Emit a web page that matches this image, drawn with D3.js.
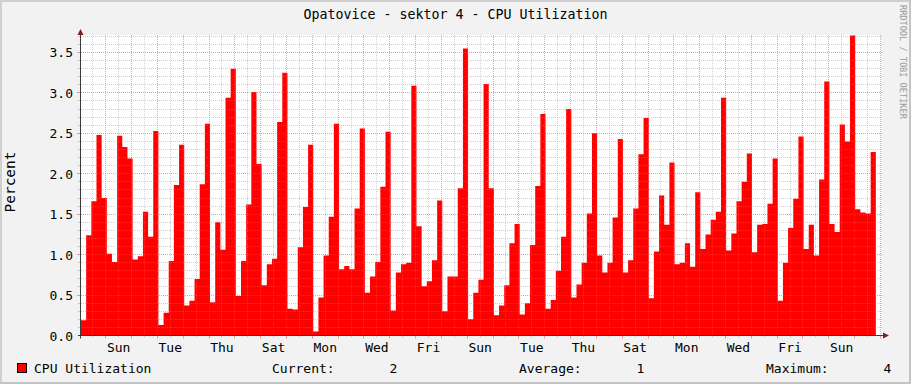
<!DOCTYPE html>
<html><head><meta charset="utf-8">
<script src="https://cdn.jsdelivr.net/npm/d3@7"></script>
<style>
html,body{margin:0;padding:0;background:#f2f2f2;}
svg{display:block;}
text{font-family:"DejaVu Sans Mono",monospace;white-space:pre;}
</style></head><body>
<svg id="chart" width="911" height="384"></svg>
<script>
// ---------- data ----------
const chartTitle = "Opatovice - sektor 4 - CPU Utilization";
const seriesName = "CPU Utilization";
const yAxisTitle = "Percent";
const watermark = "RRDTOOL / TOBI OETIKER";
const legendLabels = ["Current:", "Average:", "Maximum:"];
const yTickValues = [0, 0.5, 1.0, 1.5, 2.0, 2.5, 3.0, 3.5];
const xTickLabels = ["Sun","Tue","Thu","Sat","Mon","Wed","Fri","Sun","Tue","Thu","Sat","Mon","Wed","Fri","Sun"];
const cpuValues = [
 0.19,1.24,1.66,2.48,1.70,1.01,0.91,2.47,2.33,2.19,
 0.94,0.98,1.53,1.22,2.53,0.13,0.28,0.92,1.86,2.36,
 0.37,0.43,0.70,1.87,2.62,0.41,1.40,1.06,2.94,3.30,
 0.49,0.92,1.62,3.01,2.12,0.62,0.88,0.95,2.64,3.25,
 0.33,0.32,1.09,1.59,2.36,0.05,0.47,0.99,1.47,2.62,
 0.82,0.86,0.82,1.57,2.56,0.53,0.73,0.91,1.84,2.52,
 0.31,0.78,0.88,0.90,3.09,1.35,0.61,0.67,0.93,1.67,
 0.30,0.73,0.73,1.82,3.55,0.20,0.53,0.69,3.11,1.82,
 0.25,0.37,0.62,1.14,1.38,0.26,0.40,1.12,1.85,2.74,
 0.33,0.44,0.80,1.22,2.80,0.47,0.63,0.90,1.51,2.50,
 0.99,0.78,0.90,1.46,2.43,0.78,0.93,1.57,2.24,2.69,
 0.46,1.04,1.73,1.37,2.14,0.88,0.90,1.14,0.85,1.77,
 1.07,1.25,1.43,1.53,2.94,1.05,1.26,1.66,1.90,2.25,
 1.03,1.37,1.38,1.63,2.19,0.43,0.90,1.33,1.69,2.46,
 1.07,1.37,0.99,1.93,3.14,1.38,1.28,2.61,2.40,3.71,
 1.56,1.52,1.51,2.27
];
const startTime = new Date(Date.UTC(2022, 11, 31, 1, 30));
const endTime = new Date(Date.UTC(2023, 0, 31, 1, 0));
const slotCount = 155;            // time slots across the graph (last slot has no data yet)
const yMax = 3.71;

// ---------- layout ----------
const W = 911, H = 384;
const plot = {left: 81, right: 881, top: 35, bottom: 335.5};
const svg = d3.select("#chart");

const x = d3.scaleUtc().domain([startTime, endTime]).range([plot.left, plot.right]);
const y = d3.scaleLinear().domain([0, yMax]).range([plot.bottom, plot.top + 0.5]);

const stepMs = (endTime - startTime) / slotCount;
const points = cpuValues.map((v, i) => ({t: new Date(+startTime + i * stepMs), v}));
points.push({t: new Date(+startTime + cpuValues.length * stepMs), v: cpuValues[cpuValues.length - 1]});

// background + frame
svg.append("rect").attr("width", W).attr("height", H).attr("fill", "#f2f2f2");
svg.append("rect").attr("x", 0).attr("y", 0).attr("width", W).attr("height", 2).attr("fill", "#cfcfcf");
svg.append("rect").attr("x", 0).attr("y", 0).attr("width", 2).attr("height", H).attr("fill", "#cfcfcf");
svg.append("rect").attr("x", W - 2).attr("y", 0).attr("width", 2).attr("height", H).attr("fill", "#c4c4c4");
svg.append("rect").attr("x", 0).attr("y", H - 2).attr("width", W).attr("height", 2).attr("fill", "#c4c4c4");

// canvas
svg.append("rect").attr("x", plot.left).attr("y", plot.top)
  .attr("width", plot.right - plot.left).attr("height", plot.bottom - plot.top).attr("fill", "#ffffff");

// area
const area = d3.area().curve(d3.curveStepAfter)
  .x(d => x(d.t)).y0(y(0)).y1(d => y(d.v));
svg.append("path").datum(points).attr("d", area).attr("fill", "#ff0000");

// grid
const grid = svg.append("g");
const minorCol = "rgba(143,143,143,0.42)", majorCol = "rgba(222,79,79,0.55)";
const dayTicks = d3.utcDay.range(startTime, endTime);
const halfDayTicks = d3.utcHour.every(12).range(startTime, endTime).filter(d => d.getUTCHours() === 12);
const yMinor = d3.range(1, 38).filter(v => v % 5 !== 0 && v / 10 <= yMax).map(v => v / 10);
function vline(t, col, ext) {
  const px = Math.round(x(t)) + 0.5;
  grid.append("line").attr("x1", px).attr("x2", px).attr("y1", plot.top).attr("y2", plot.bottom)
    .attr("stroke", col).attr("stroke-dasharray", "1,1");
  grid.append("line").attr("x1", px).attr("x2", px).attr("y1", plot.bottom).attr("y2", plot.bottom + ext)
    .attr("stroke", col);
}
function hline(v, col, ext) {
  const py = Math.round(y(v) - 0.5) + 0.5;
  grid.append("line").attr("x1", plot.left).attr("x2", plot.right + 2).attr("y1", py).attr("y2", py)
    .attr("stroke", col).attr("stroke-dasharray", "1,1");
  grid.append("line").attr("x1", plot.left - 1 - ext).attr("x2", plot.left - 1).attr("y1", py).attr("y2", py)
    .attr("stroke", col);
}
halfDayTicks.forEach(t => vline(t, minorCol, 2));
dayTicks.forEach(t => vline(t, majorCol, 3));
yMinor.forEach(v => hline(v, minorCol, 2));
yTickValues.filter(v => v > 0).forEach(v => hline(v, majorCol, 3));

// axes lines
svg.append("line").attr("x1", plot.left - 3).attr("x2", plot.right + 3)
  .attr("y1", plot.bottom).attr("y2", plot.bottom).attr("stroke", "#3a3a3a");
svg.append("line").attr("x1", plot.left - 0.5).attr("x2", plot.left - 0.5)
  .attr("y1", plot.bottom + 3).attr("y2", plot.top - 2).attr("stroke", "#3a3a3a");
// arrows
svg.append("path").attr("d", `M${plot.left - 3.5},${plot.top} L${plot.left + 2.5},${plot.top} L${plot.left - 0.5},${plot.top - 6} Z`).attr("fill", "#801f1f");
svg.append("path").attr("d", `M${plot.right + 2},${plot.bottom - 3} L${plot.right + 2},${plot.bottom + 3} L${plot.right + 8},${plot.bottom} Z`).attr("fill", "#801f1f");

// y axis labels
const yAxis = d3.axisLeft(y).tickValues(yTickValues).tickFormat(d3.format(".1f")).tickSize(0).tickPadding(0);
const gy = svg.append("g").attr("transform", `translate(73,0)`).call(yAxis);
gy.select(".domain").remove();
gy.selectAll("text").attr("font-family", "DejaVu Sans Mono").attr("font-size", 13).attr("fill", "#000")
  .attr("dy", null).attr("dominant-baseline", "central");

// x axis labels (centered on noon of every second day)
const labelDates = d3.utcDay.every(2).range(d3.utcDay.ceil(startTime), endTime).map(d => d3.utcHour.offset(d, 12));
const xAxis = d3.axisBottom(x).tickValues(labelDates).tickFormat((d, i) => xTickLabels[i]).tickSize(0).tickPadding(0);
const gx = svg.append("g").attr("transform", `translate(0,${plot.bottom})`).call(xAxis);
gx.select(".domain").remove();
gx.selectAll("text").attr("font-family", "DejaVu Sans Mono").attr("font-size", 13).attr("fill", "#000")
  .attr("dy", null).attr("y", 16);

// title
svg.append("text").attr("x", W / 2).attr("y", 19).attr("text-anchor", "middle")
  .attr("font-size", 13.3).attr("fill", "#000").text(chartTitle);
// y title
svg.append("text").attr("transform", `translate(15,182) rotate(-90)`).attr("text-anchor", "middle")
  .attr("font-size", 14.5).attr("fill", "#000").text(yAxisTitle);
// watermark
svg.append("text").attr("transform", `translate(899.5,5) rotate(90)`).attr("text-anchor", "start")
  .attr("font-size", 8.6).attr("fill", "#9a9a9a").text(watermark);

// legend
svg.append("rect").attr("x", 17.5).attr("y", 363.5).attr("width", 9).attr("height", 9)
  .attr("fill", "#ff0000").attr("stroke", "#000");
svg.append("text").attr("x", 34).attr("y", 373).attr("font-size", 13).text(seriesName);
const fmt = d3.format(".0f");
const stats = [cpuValues[cpuValues.length - 1], d3.mean(cpuValues), d3.max(cpuValues)];
const legendX = [272, 519, 766];
stats.forEach((s, i) => {
  svg.append("text").attr("x", legendX[i]).attr("y", 373).attr("font-size", 13)
    .text(legendLabels[i] + fmt(s).padStart(8, " "));
});
</script>
</body></html>
